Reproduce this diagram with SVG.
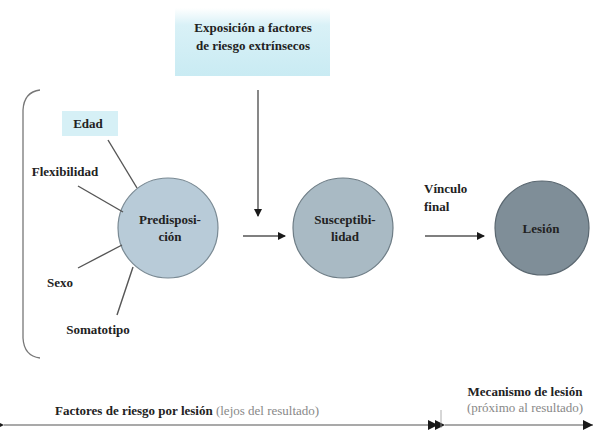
<svg xmlns="http://www.w3.org/2000/svg" width="595" height="436" viewBox="0 0 595 436">
<defs>
<linearGradient id="boxg" x1="0" y1="0" x2="0" y2="1">
<stop offset="0" stop-color="#ffffff"/>
<stop offset="0.25" stop-color="#d9f1f7"/>
<stop offset="1" stop-color="#c9ebf3"/>
</linearGradient>
<marker id="ah" markerWidth="8" markerHeight="8" refX="7" refY="4" orient="auto" markerUnits="userSpaceOnUse">
<path d="M0,0 L8,4 L0,8 z" fill="#1a1a1a"/>
</marker>
<marker id="ahs" markerWidth="10" markerHeight="10" refX="0" refY="5" orient="auto-start-reverse" markerUnits="userSpaceOnUse">
<path d="M0,5 L10,0 L10,10 z" fill="#1a1a1a"/>
</marker>
<marker id="ahe" markerWidth="10" markerHeight="10" refX="10" refY="5" orient="auto" markerUnits="userSpaceOnUse">
<path d="M0,0 L10,5 L0,10 z" fill="#1a1a1a"/>
</marker>
</defs>
<style>
text{font-family:"Liberation Serif","DejaVu Serif","Times New Roman",serif;font-size:13px;fill:#222;}
.b{font-weight:bold;}
.g{fill:#888;font-weight:normal;}
.c{text-anchor:middle;}
.ln{stroke:#555;stroke-width:1.4;fill:none;}
.ar{stroke:#555;stroke-width:1.4;fill:none;}
</style>
<rect width="595" height="436" fill="#ffffff"/>
<g id="exposicion">
<rect x="175" y="8" width="155" height="68" fill="url(#boxg)"/>
<text x="253" y="32" class="b c">Exposición a factores</text>
<text x="253" y="50" class="b c">de riesgo extrínsecos</text>
</g>
<g id="bracket">
<path d="M40,90 Q24,92 23,110 L23,338 Q24,356 40,358" stroke="#777" stroke-width="1.3" fill="none"/>
</g>
<g id="edad">
<rect x="62" y="111" width="56" height="25" fill="#d6f0f6"/>
<text x="88" y="128" class="b c">Edad</text>
</g>
<g id="flexibilidad">
<text x="65" y="176" class="b c">Flexibilidad</text>
</g>
<g id="sexo">
<text x="60" y="287" class="b c">Sexo</text>
</g>
<g id="somatotipo">
<text x="98" y="334" class="b c">Somatotipo</text>
</g>
<g id="predisposicion">
<circle cx="168" cy="228" r="50" fill="#b8cbd8" stroke="#7a8a94" stroke-width="1.2"/>
<text x="170" y="224" class="b c">Predisposi-</text>
<text x="170" y="241" class="b c">ción</text>
</g>
<g id="susceptibilidad">
<circle cx="343" cy="228" r="50" fill="#a9bac4" stroke="#6e7d86" stroke-width="1.2"/>
<text x="345" y="224" class="b c">Susceptibi-</text>
<text x="345" y="241" class="b c">lidad</text>
</g>
<g id="vinculo">
<text x="424" y="193" class="b">Vínculo</text>
<text x="424" y="211" class="b">final</text>
</g>
<g id="lesion">
<circle cx="542" cy="228" r="47" fill="#7f8e98" stroke="#5a6770" stroke-width="1.2"/>
<text x="541" y="233" class="b c">Lesión</text>
</g>
<g id="connectors">
<line x1="108" y1="140" x2="137" y2="188" class="ln"/>
<line x1="78" y1="186" x2="123" y2="212" class="ln"/>
<line x1="78" y1="268" x2="122" y2="245" class="ln"/>
<line x1="117" y1="315" x2="133" y2="267" class="ln"/>
<line x1="258" y1="90" x2="258" y2="216" class="ar" marker-end="url(#ah)"/>
<line x1="243" y1="236" x2="285" y2="236" class="ar" marker-end="url(#ah)"/>
<line x1="425" y1="236" x2="484" y2="236" class="ar" marker-end="url(#ah)"/>
<line x1="4" y1="425" x2="438" y2="425" stroke="#555" stroke-width="1.2" marker-start="url(#ahs)" marker-end="url(#ahe)"/>
<line x1="445" y1="425" x2="593" y2="425" stroke="#555" stroke-width="1.2" marker-start="url(#ahs)" marker-end="url(#ahe)"/>
<line x1="441" y1="410" x2="441" y2="428" stroke="#999" stroke-width="0.8"/>
</g>
<g id="factores">
<text x="55" y="415"><tspan class="b">Factores de riesgo por lesión</tspan> <tspan class="g">(lejos del resultado)</tspan></text>
</g>
<g id="mecanismo">
<text x="525" y="396" class="b c">Mecanismo de lesión</text>
<text x="525" y="412" class="g c">(próximo al resultado)</text>
</g>
</svg>
